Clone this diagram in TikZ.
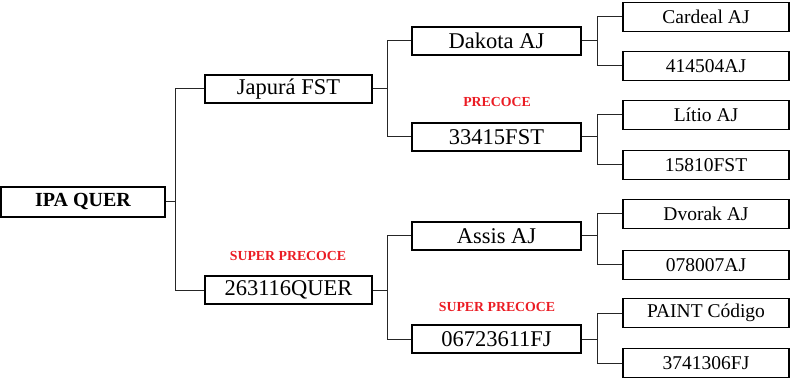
\documentclass[tikz,border=0pt]{standalone}
\usepackage{fontspec}
\setmainfont{Liberation Serif}
\definecolor{lbl}{RGB}{235,28,36}
\begin{document}
\begin{tikzpicture}[x=1pt,y=-1pt,
  box/.style={draw=black,line width=1.5pt,inner sep=0pt,anchor=center},
  lone/.style={box,minimum width=164pt,minimum height=30pt,font=\fontsize{20}{20}\selectfont\bfseries},
  ltwo/.style={box,minimum width=167pt,minimum height=28pt,font=\fontsize{22.5}{22.5}\selectfont},
  lthree/.style={box,minimum width=169pt,minimum height=28pt,font=\fontsize{22.5}{22.5}\selectfont},
  lfour/.style={box,minimum width=166pt,minimum height=29pt,font=\fontsize{19.5}{19.5}\selectfont},
  tag/.style={text=lbl,font=\fontsize{13.8}{13.8}\selectfont\bfseries},
  link/.style={draw=black!85,line width=1pt}]
\useasboundingbox (0,0) rectangle (790,382);
\node[lone] (ipa) at (83,202) {IPA QUER};
\node[ltwo] (jap) at (288.5,89) {Japurá FST};
\node[ltwo] (q) at (288.5,290) {263116QUER};
\node[lthree] (dak) at (496.5,41) {Dakota AJ};
\node[lthree] (fst) at (496.5,137) {33415FST};
\node[lthree] (ass) at (496.5,236) {Assis AJ};
\node[lthree] (fj) at (496.5,339) {06723611FJ};
\node[lfour] (car) at (706,17) {Cardeal AJ};
\node[lfour] (a414) at (706,66) {414504AJ};
\node[lfour] (lit) at (706,115) {Lítio AJ};
\node[lfour] (f158) at (706,165) {15810FST};
\node[lfour] (dvo) at (706,214) {Dvorak AJ};
\node[lfour] (a078) at (706,265) {078007AJ};
\node[lfour] (pai) at (706,313) {PAINT Código};
\node[lfour] (f374) at (706,363) {3741306FJ};
\node[tag] (t1) at (497,102) {PRECOCE};
\node[tag] (t2) at (288,256) {SUPER PRECOCE};
\node[tag] (t3) at (497,307) {SUPER PRECOCE};
\coordinate (c0) at ([xshift=10pt]ipa.east);
\draw[link] (ipa.east) -- (c0) |- (jap.west);
\draw[link] (c0) |- (q.west);
\coordinate (c1) at ([xshift=15pt]jap.east);
\draw[link] (jap.east) -- (c1) |- (dak.west);
\draw[link] (c1) |- (fst.west);
\coordinate (c2) at ([xshift=15pt]q.east);
\draw[link] (q.east) -- (c2) |- (ass.west);
\draw[link] (c2) |- (fj.west);
\coordinate (c3) at ([xshift=16pt]dak.east);
\draw[link] (dak.east) -- (c3) |- (car.west);
\draw[link] (c3) |- (a414.west);
\coordinate (c4) at ([xshift=16pt]fst.east);
\draw[link] (fst.east) -- (c4) |- (lit.west);
\draw[link] (c4) |- (f158.west);
\coordinate (c5) at ([xshift=16pt]ass.east);
\draw[link] (ass.east) -- (c5) |- (dvo.west);
\draw[link] (c5) |- (a078.west);
\coordinate (c6) at ([xshift=16pt]fj.east);
\draw[link] (fj.east) -- (c6) |- (pai.west);
\draw[link] (c6) |- (f374.west);
\end{tikzpicture}
\end{document}
